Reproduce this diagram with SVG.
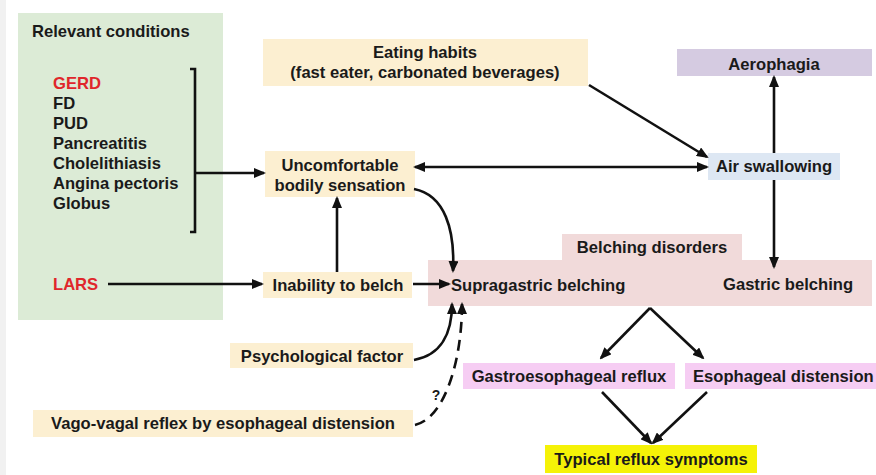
<svg xmlns="http://www.w3.org/2000/svg" width="876" height="475" viewBox="0 0 876 475">
<defs>
<marker id="ah" markerUnits="userSpaceOnUse" markerWidth="12" markerHeight="10" refX="10" refY="5" orient="auto-start-reverse" viewBox="0 0 12 10">
<path d="M0,0 L12,5 L0,10 z" fill="#111"/>
</marker>
<style>
text{font-family:"Liberation Sans",Arial,sans-serif;font-weight:bold;font-size:16.6px;fill:#1a1a1a}
.c{text-anchor:middle}
.red{fill:#e0262b}
.y{fill:#fcefd1}
.ln{fill:none;stroke:#111;stroke-width:2.6}
.a{marker-end:url(#ah)}
</style>
</defs>
<rect x="0" y="0" width="876" height="475" fill="#fff"/>
<rect x="0" y="0" width="6" height="475" fill="#f1f1f1"/>

<g id="relevant-conditions">
<rect x="18" y="13" width="205" height="307" fill="#dcebd6"/>
<text x="32" y="37">Relevant conditions</text>
<text x="53" y="89" class="red">GERD</text>
<text x="53" y="109">FD</text>
<text x="53" y="129">PUD</text>
<text x="53" y="149">Pancreatitis</text>
<text x="53" y="169">Cholelithiasis</text>
<text x="53" y="189">Angina pectoris</text>
<text x="53" y="209">Globus</text>
<path d="M190,69 H195 V232 H190" class="ln" stroke-width="3"/>
<text x="53" y="290" class="red">LARS</text>
</g>

<g id="eating-habits">
<rect x="263" y="39" width="325" height="47" class="y"/>
<text x="425" y="58" class="c">Eating habits</text>
<text x="425" y="78" class="c">(fast eater, carbonated beverages)</text>
</g>

<g id="uncomfortable">
<rect x="265" y="151" width="150" height="46" class="y"/>
<text x="340" y="171" class="c">Uncomfortable</text>
<text x="340" y="191" class="c">bodily sensation</text>
</g>

<g id="aerophagia">
<rect x="677" y="49" width="195" height="27" fill="#d5cbe1"/>
<text x="774" y="70" class="c">Aerophagia</text>
</g>

<g id="air-swallowing">
<rect x="708" y="153" width="132" height="27" fill="#dde7f3"/>
<text x="774" y="172" class="c">Air swallowing</text>
</g>

<g id="belching-disorders">
<path d="M562,234 H742 V260 H872 V306 H428 V260 H562 Z" fill="#f1dada"/>
<text x="652" y="253" class="c">Belching disorders</text>
<text x="451" y="291">Supragastric belching</text>
<text x="723" y="290">Gastric belching</text>
</g>

<g id="inability">
<rect x="263" y="272" width="149" height="26" class="y"/>
<text x="338" y="291" class="c">Inability to belch</text>
</g>

<g id="psychological">
<rect x="230" y="343" width="183" height="25" class="y"/>
<text x="322" y="362" class="c">Psychological factor</text>
</g>

<g id="vago-vagal">
<rect x="33" y="410" width="380" height="27" class="y"/>
<text x="223" y="429" class="c">Vago-vagal reflex by esophageal distension</text>
</g>

<g id="gastroesophageal-reflux">
<rect x="463" y="363" width="212" height="26" fill="#f6cdf3"/>
<text x="569" y="382" class="c">Gastroesophageal reflux</text>
</g>

<g id="esophageal-distension">
<rect x="685" y="363" width="191" height="26" fill="#f6cdf3"/>
<text x="693" y="382">Esophageal distension</text>
</g>

<g id="typical-reflux">
<rect x="545" y="445" width="212" height="28" fill="#f5f207"/>
<text x="651" y="465" class="c">Typical reflux symptoms</text>
</g>

<g id="connectors">
<path d="M195,173 H264" class="ln a"/>
<path d="M415,167 H707" class="ln a" marker-start="url(#ah)"/>
<path d="M589,85 L707,157" class="ln a"/>
<path d="M774,153 V77" class="ln a"/>
<path d="M774,180 V267" class="ln a"/>
<path d="M108,284 H262" class="ln a"/>
<path d="M413,284 H449" class="ln a"/>
<path d="M337,272 V198" class="ln a"/>
<path d="M414,189 C445,195 455,230 453,271" class="ln a"/>
<path d="M414,360 C442,355 452,332 452,304" class="ln a"/>
<path d="M415,425 C445,418 462,360 462,304" class="ln a" stroke-dasharray="11,7"/>
<text x="436" y="400" class="c" style="font-size:14px">?</text>
<path d="M650,308 L601,358" class="ln a"/>
<path d="M650,308 L703,358" class="ln a"/>
<path d="M602,392 L651,443" class="ln a"/>
<path d="M707,392 L653,443" class="ln a"/>
</g>
</svg>
